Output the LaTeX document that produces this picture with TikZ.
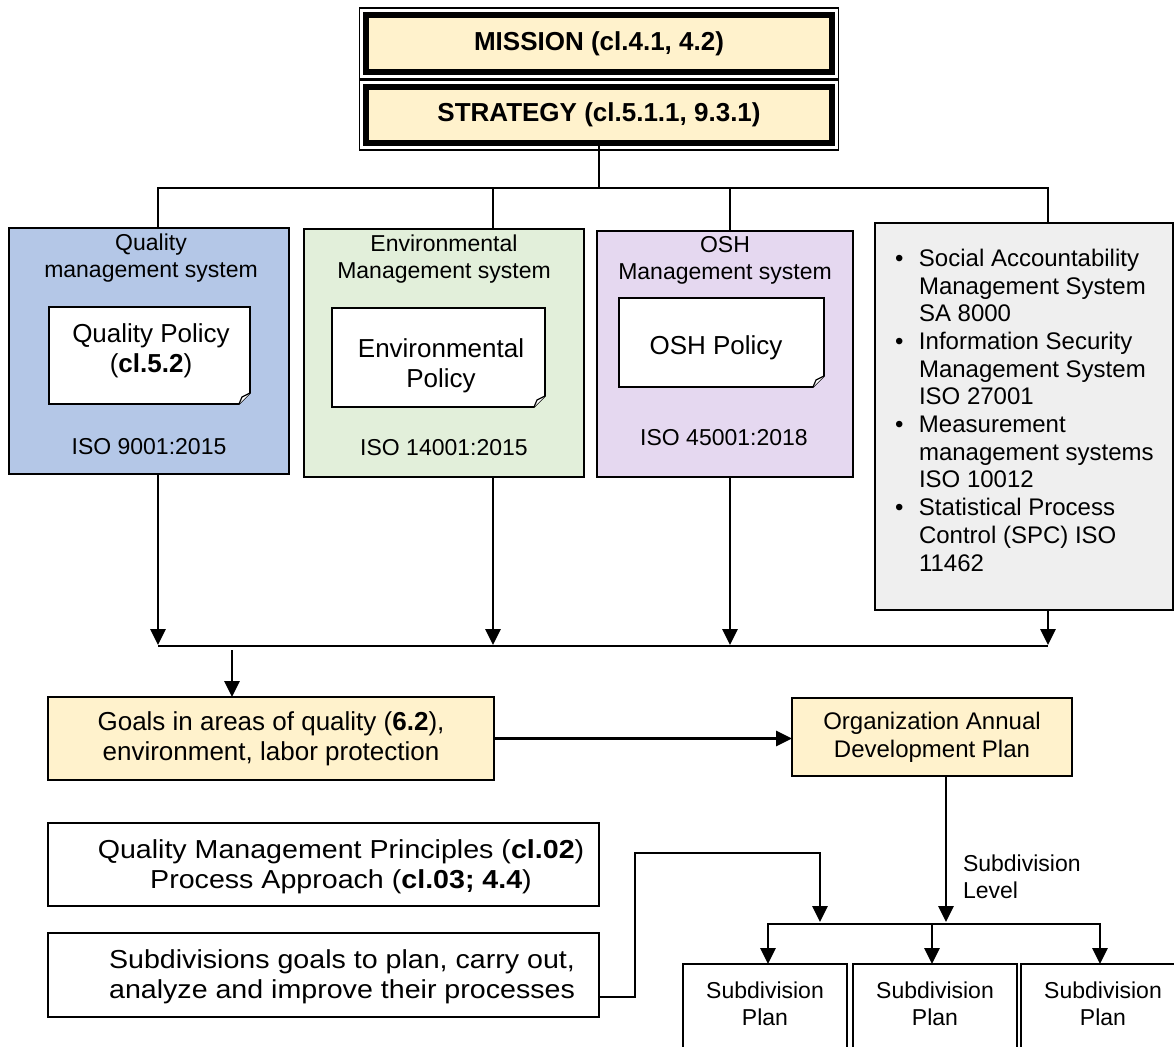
\documentclass[tikz,border=0pt]{standalone}
\usepackage{fontspec}
\setmainfont{Liberation Sans}
\newfontfamily\widefont[FakeStretch=1.1]{Liberation Sans}
\usetikzlibrary{arrows.meta,calc}
\definecolor{qblue}{HTML}{B4C7E7}
\definecolor{egreen}{HTML}{E2EFDA}
\definecolor{opurple}{HTML}{E5D8F0}
\definecolor{lgray}{HTML}{EFEFEF}
\definecolor{cream}{HTML}{FFF2CC}
\newcommand\policydoc[1]{%
  \draw[line width=1.6pt, fill=white] (#1.north west) -- (#1.north east) -- ([yshift=11pt]#1.south east) -- ([xshift=-11pt]#1.south east) -- (#1.south west) -- cycle;
  \draw[line width=1.2pt, fill=white, line join=round] ([xshift=-11pt]#1.south east) -- ([xshift=-8pt,yshift=7pt]#1.south east) -- ([yshift=11pt]#1.south east);
}
\begin{document}
\begin{tikzpicture}[x=1pt,y=-1pt,outer sep=0pt,inner sep=0pt,
  box/.style={draw=black,line width=2pt},
  conn/.style={line width=2.8pt},
  arr/.style={conn,-{Triangle[length=16pt,width=15pt]}},
  txa/.style={font=\fontsize{23}{27.5}\selectfont,align=center},
  txb/.style={font=\fontsize{24}{28}\selectfont,align=center},
  txc/.style={font=\fontsize{26}{30}\selectfont,align=center},
  txw/.style={font=\widefont\fontsize{26}{30}\selectfont,align=center},
  headbox/.style={draw=black,line width=6pt,fill=cream,minimum width=465.5pt,font=\fontsize{26}{30}\selectfont\bfseries}
]
\useasboundingbox (0,0) rectangle (1174,1046);

% Mission / Strategy
\node[headbox,minimum height=57pt] (mission) at (599,43.5) {MISSION (cl.4.1, 4.2)};
\draw[line width=1.2pt] ([xshift=-6.5pt,yshift=7pt]mission.north west) rectangle ([xshift=6.5pt,yshift=-7pt]mission.south east);
\node[headbox,minimum height=56pt] (strategy) at (599,115) {STRATEGY (cl.5.1.1, 9.3.1)};
\draw[line width=1.2pt] ([xshift=-6.5pt,yshift=7pt]strategy.north west) rectangle ([xshift=6.5pt,yshift=-7pt]strategy.south east);

% Management system boxes
\node[box,fill=qblue,minimum width=280pt,minimum height=246pt] (qms) at (149,351) {};
\node[txa] (qmst) at (151,258) {Quality\\management system};
\node[minimum width=201pt,minimum height=97pt] (qpd) at (149.5,355.5) {};
\policydoc{qpd}
\node[txc] (qpt) at (151,351) {Quality Policy\\(\textbf{cl.5.2})};
\node[txa] (qiso) at (149,447) {ISO 9001:2015};

\node[box,fill=egreen,minimum width=280pt,minimum height=248pt] (ems) at (444,353) {};
\node[txa] (emst) at (444,259) {Environmental\\Management system};
\node[minimum width=213pt,minimum height=99pt] (epd) at (438.5,357.5) {};
\policydoc{epd}
\node[txc] (ept) at (441,366) {Environmental\\Policy};
\node[txa] (eiso) at (444,448) {ISO 14001:2015};

\node[box,fill=opurple,minimum width=256pt,minimum height=246pt] (osh) at (725,354) {};
\node[txa] (osht) at (725,260.5) {OSH\\Management system};
\node[minimum width=205pt,minimum height=89pt] (opd) at (721.5,342.5) {};
\policydoc{opd}
\node[txc] (opt) at (716,348) {OSH Policy};
\node[txa] (oiso) at (724,438) {ISO 45001:2018};

\node[box,fill=lgray,minimum width=298pt,minimum height=387pt] (oth) at (1024,416.5) {};
\node[anchor=north west,font=\fontsize{24}{27.7}\selectfont] (list) at (895,247) {%
\begin{tabular}{@{}l@{}l@{}}
\makebox[24pt][l]{\textbullet} & Social Accountability\\
 & Management System\\
 & SA 8000\\
\makebox[24pt][l]{\textbullet} & Information Security\\
 & Management System\\
 & ISO 27001\\
\makebox[24pt][l]{\textbullet} & Measurement\\
 & management systems\\
 & ISO 10012\\
\makebox[24pt][l]{\textbullet} & Statistical Process\\
 & Control (SPC) ISO\\
 & 11462
\end{tabular}};

% top distribution
\coordinate (b1) at (158,188);
\coordinate (b2) at (493,188);
\coordinate (b3) at (730,188);
\coordinate (b4) at (1048,188);
\draw[conn] (strategy.south) -- (strategy.south |- b1);
\draw[conn] (b1 |- qms.north) -- (b1) -- (b4) -- (b4 |- oth.north);
\draw[conn] (b2) -- (b2 |- ems.north);
\draw[conn] (b3) -- (b3 |- osh.north);

% bottom collection
\coordinate (h1) at (158,645);
\coordinate (h2) at (493,645);
\coordinate (h3) at (730,645);
\coordinate (h4) at (1048,645);
\draw[arr] (h1 |- qms.south) -- (h1);
\draw[arr] (h2 |- ems.south) -- (h2);
\draw[arr] (h3 |- osh.south) -- (h3);
\draw[arr] (h4 |- oth.south) -- (h4);
\draw[conn] ([yshift=-1pt]h1) -- ([yshift=-1pt]h4);

% goals and plan
\node[box,fill=cream,minimum width=446pt,minimum height=83pt,txc] (goals) at (271,738.5) {Goals in areas of quality (\textbf{6.2}),\\environment, labor protection};
\coordinate (g0) at (232,650);
\draw[arr] (g0) -- (g0 |- goals.north);
\node[box,fill=cream,minimum width=280pt,minimum height=78pt,txb] (org) at (932,737) {Organization Annual\\Development Plan};
\draw[arr] (goals.east) -- (goals.east -| org.west);

% lower left boxes
\node[box,minimum width=551pt,minimum height=83pt] (qmp) at (323.5,864.5) {};
\node[txw] (qmpt) at (341,867) {Quality Management Principles (\textbf{cl.02})\\Process Approach (\textbf{cl.03; 4.4})};
\node[box,minimum width=551pt,minimum height=84pt] (sgoals) at (323.5,975) {};
\node[txw] (sgoalst) at (342,977) {Subdivisions goals to plan, carry out,\\analyze and improve their processes};

% subdivision plans
\node[box,minimum width=164pt,minimum height=110pt,anchor=north] (sp1) at (765,964) {};
\node[box,minimum width=164pt,minimum height=110pt,anchor=north] (sp2) at (935,964) {};
\node[box,minimum width=164pt,minimum height=110pt,anchor=north] (sp3) at (1103,964) {};
\node[txa] (sp1t) at (765,1004) {Subdivision\\Plan};
\node[txa] (sp2t) at (935,1004) {Subdivision\\Plan};
\node[txa] (sp3t) at (1103,1004) {Subdivision\\Plan};

\coordinate (s0) at (946,922);
\draw[arr] (org.south -| s0) -- (s0);
\node[anchor=west,font=\fontsize{23}{27}\selectfont,align=left] (lvl) at (963,876.5) {Subdivision\\Level};

\coordinate (p1) at (768,924);
\coordinate (p2) at (932,924);
\coordinate (p3) at (1100,924);
\draw[arr] (p2) -- (p1) -- (p1 |- sp1.north);
\draw[arr] (p2) -- (p3) -- (p3 |- sp3.north);
\draw[arr] (p2) -- (p2 |- sp2.north);

\coordinate (e1) at (635,997);
\coordinate (e2) at (635,853);
\coordinate (e3) at (820,853);
\coordinate (e4) at (820,922);
\draw[arr] (sgoals.east |- e1) -- (e1) -- (e2) -- (e3) -- (e4);
\end{tikzpicture}
\end{document}
